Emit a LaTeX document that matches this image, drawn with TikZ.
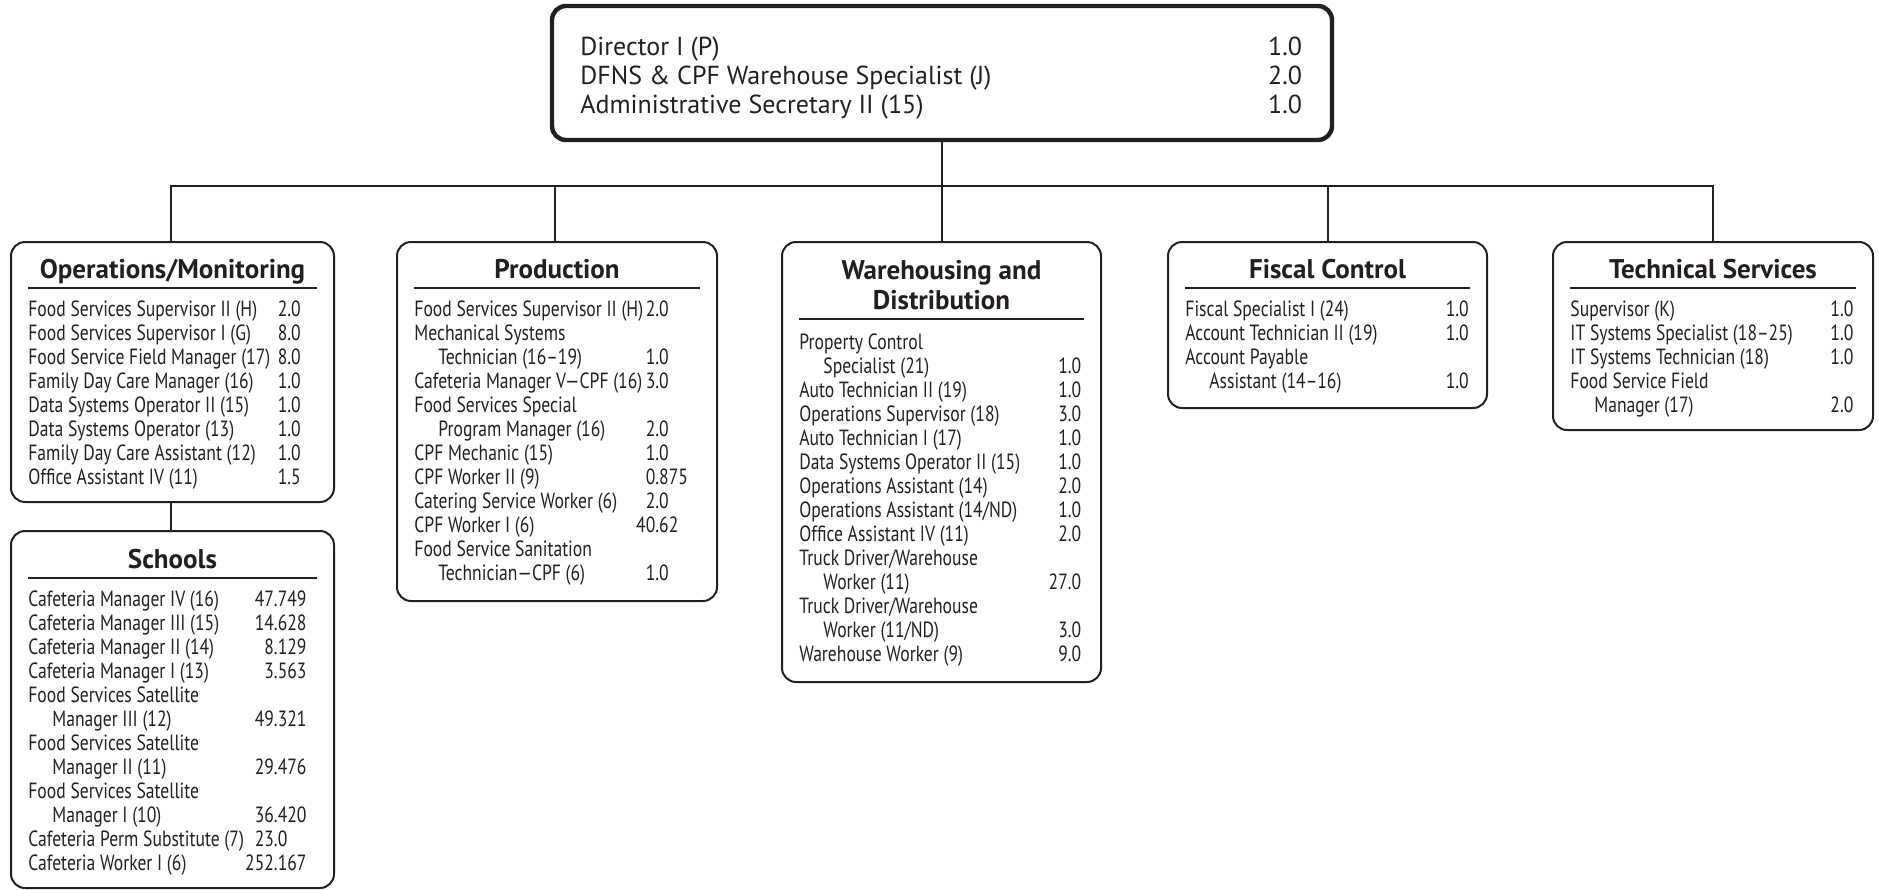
\documentclass[tikz,border=0pt]{standalone}
\usepackage{fontspec}
\setmainfont{PT Sans}[FakeStretch=0.8]
\newfontfamily\widefont{PT Sans}
\usetikzlibrary{calc}
\definecolor{ink}{RGB}{35,31,32}

\newlength\la
\newlength\lb
\setlength\lb{14pt}
\newcommand\nr[3]{\makebox[\la][l]{#1}\makebox[\lb][r]{#2}.#3\\}
\newcommand\nl[1]{#1\\}
\newcommand\ind{\hspace*{12pt}}
\newcommand\entries[2]{\setlength\la{#1}\begin{tabular}[t]{@{}l@{}}#2\end{tabular}}

\tikzset{
  deptbox/.style={draw=ink, line width=1pt, rounded corners=7pt, inner sep=0pt, anchor=north},
  topbox/.style={draw=ink, line width=2.2pt, rounded corners=7pt, inner sep=0pt},
  ttl/.style={text=ink, font=\widefont\bfseries\fontsize{13.5}{15}\selectfont, anchor=base, inner sep=0pt},
  lst/.style={text=ink, font=\fontsize{11}{12}\selectfont, anchor=base west, inner sep=0pt},
  toplst/.style={text=ink, font=\widefont\fontsize{13}{14.6}\selectfont, anchor=base west, inner sep=0pt},
  conn/.style={draw=ink, line width=1pt},
  rulel/.style={draw=ink, line width=0.6pt},
}

\begin{document}
\begin{tikzpicture}[x=0.5pt, y=-0.5pt]
\useasboundingbox (0,0) rectangle (1879,889);

% boxes
\node[topbox, minimum width=390pt, minimum height=67pt] (top) at (942,73) {};
\node[deptbox, minimum width=161.5pt, minimum height=130pt] (ops) at (172.5,241) {};
\node[deptbox, minimum width=161.5pt, minimum height=178.5pt] (schools) at (172.5,530) {};
\node[deptbox, minimum width=160pt, minimum height=179.5pt] (prod) at (557,241) {};
\node[deptbox, minimum width=159.5pt, minimum height=220pt] (ware) at (941.5,241) {};
\node[deptbox, minimum width=159.5pt, minimum height=83pt] (fisc) at (1327.5,241) {};
\node[deptbox, minimum width=160pt, minimum height=94pt] (tech) at (1713,241) {};

% connectors
\coordinate (bus) at (942,186);
\draw[conn] ([xshift=-1pt]ops.north) |- (bus) -| (tech.north);
\draw[conn] (top.south) -- (bus);
\draw[conn] ([xshift=-1pt]prod.north) -- ([xshift=-1pt]prod.north |- bus);
\draw[conn] (ware.north) -- (ware.north |- bus);
\draw[conn] (fisc.north) -- (fisc.north |- bus);
\draw[conn] ([xshift=-1pt]ops.south) -- ([xshift=-1pt]schools.north);

% top box entries
\node[toplst] (topL) at (580,55) {\entries{337pt}{%
\nr{Director I (P)}{1}{0}
\nr{DFNS \& CPF Warehouse Specialist (J)}{2}{0}
\nr{Administrative Secretary II (15)}{1}{0}}};

% titles
\node[ttl] (opsT) at ($(ops.north)+(0,37)$) {Operations/Monitoring};
\node[ttl] (schT) at ($(schools.north)+(0,38)$) {Schools};
\node[ttl] (prodT) at ($(prod.north)+(0,37)$) {Production};
\node[ttl] (wareT) at ($(ware.north)+(0,38)$) {\begin{tabular}[t]{@{}c@{}}Warehousing and\\Distribution\end{tabular}};
\node[ttl] (fiscT) at ($(fisc.north)+(0,37)$) {Fiscal Control};
\node[ttl] (techT) at ($(tech.north)+(0,37)$) {Technical Services};

% rules under titles
\draw[rulel] ($(ops.north west)+(18,47)$) -- ($(ops.north east)+(-18,47)$);
\draw[rulel] ($(schools.north west)+(18,48)$) -- ($(schools.north east)+(-18,48)$);
\draw[rulel] ($(prod.north west)+(18,47)$) -- ($(prod.north east)+(-18,47)$);
\draw[rulel] ($(ware.north west)+(18,78)$) -- ($(ware.north east)+(-18,78)$);
\draw[rulel] ($(fisc.north west)+(18,47)$) -- ($(fisc.north east)+(-18,47)$);
\draw[rulel] ($(tech.north west)+(18,47)$) -- ($(tech.north east)+(-18,47)$);

% lists
\node[lst] (opsL) at ($(ops.north west)+(18,75)$) {\entries{115.5pt}{%
\nr{Food Services Supervisor II (H)}{2}{0}
\nr{Food Services Supervisor I (G)}{8}{0}
\nr{Food Service Field Manager (17)}{8}{0}
\nr{Family Day Care Manager (16)}{1}{0}
\nr{Data Systems Operator II (15)}{1}{0}
\nr{Data Systems Operator (13)}{1}{0}
\nr{Family Day Care Assistant (12)}{1}{0}
\nr{Office Assistant IV (11)}{1}{5}}};

\node[lst] (schL) at ($(schools.north west)+(18,76)$) {\entries{108.8pt}{%
\nr{Cafeteria Manager IV (16)}{47}{749}
\nr{Cafeteria Manager III (15)}{14}{628}
\nr{Cafeteria Manager II (14)}{8}{129}
\nr{Cafeteria Manager I (13)}{3}{563}
\nl{Food Services Satellite}
\nr{\ind Manager III (12)}{49}{321}
\nl{Food Services Satellite}
\nr{\ind Manager II (11)}{29}{476}
\nl{Food Services Satellite}
\nr{\ind Manager I (10)}{36}{420}
\nr{Cafeteria Perm Substitute (7)}{23}{0}
\nr{Cafeteria Worker I (6)}{252}{167}}};

\node[lst] (prodL) at ($(prod.north west)+(18,75)$) {\entries{106.5pt}{%
\nr{Food Services Supervisor II (H)}{2}{0}
\nl{Mechanical Systems}
\nr{\ind Technician (16–19)}{1}{0}
\nr{Cafeteria Manager V—CPF (16)}{3}{0}
\nl{Food Services Special}
\nr{\ind Program Manager (16)}{2}{0}
\nr{CPF Mechanic (15)}{1}{0}
\nr{CPF Worker II (9)}{0}{875}
\nr{Catering Service Worker (6)}{2}{0}
\nr{CPF Worker I (6)}{40}{62}
\nl{Food Service Sanitation}
\nr{\ind Technician—CPF (6)}{1}{0}}};

\node[lst] (wareL) at ($(ware.north west)+(18,108)$) {\entries{120.25pt}{%
\nl{Property Control}
\nr{\ind Specialist (21)}{1}{0}
\nr{Auto Technician II (19)}{1}{0}
\nr{Operations Supervisor (18)}{3}{0}
\nr{Auto Technician I (17)}{1}{0}
\nr{Data Systems Operator II (15)}{1}{0}
\nr{Operations Assistant (14)}{2}{0}
\nr{Operations Assistant (14/ND)}{1}{0}
\nr{Office Assistant IV (11)}{2}{0}
\nl{Truck Driver/Warehouse}
\nr{\ind Worker (11)}{27}{0}
\nl{Truck Driver/Warehouse}
\nr{\ind Worker (11/ND)}{3}{0}
\nr{Warehouse Worker (9)}{9}{0}}};

\node[lst] (fiscL) at ($(fisc.north west)+(18,75)$) {\entries{121pt}{%
\nr{Fiscal Specialist I (24)}{1}{0}
\nr{Account Technician II (19)}{1}{0}
\nl{Account Payable}
\nr{\ind Assistant (14–16)}{1}{0}}};

\node[lst] (techL) at ($(tech.north west)+(18,75)$) {\entries{120.8pt}{%
\nr{Supervisor (K)}{1}{0}
\nr{IT Systems Specialist (18–25)}{1}{0}
\nr{IT Systems Technician (18)}{1}{0}
\nl{Food Service Field}
\nr{\ind Manager (17)}{2}{0}}};
\end{tikzpicture}
\end{document}
